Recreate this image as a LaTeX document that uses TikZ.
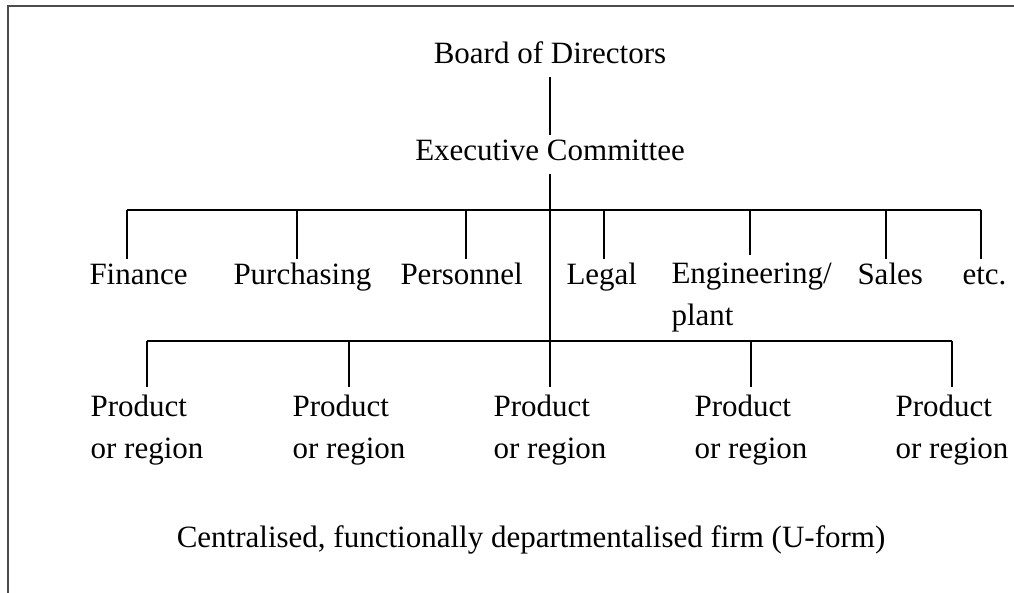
\documentclass[tikz,border=0pt]{standalone}
\usepackage{fontspec}
\setmainfont{Liberation Serif}
\usetikzlibrary{positioning}

\begin{document}
\begin{tikzpicture}[x=0.4pt, y=-0.4pt,
	txt/.style={inner xsep=0pt, inner ysep=3pt, font=\fontsize{12.4pt}{16.8pt}\selectfont},
	lbl/.style={txt, text height=0.7em, text depth=0.25em},
	twoline/.style={txt, align=left},
	bar/.style={line width=1.1pt},
	drop/.style={line width=0.6pt}]
			\useasboundingbox (0,0) rectangle (1014,593);
			\fill[white] (0,0) rectangle (1014,593);
			\draw[black!70, line width=0.6pt] (8,593) -- (8,6) -- (1014,6);
			
			\node[lbl, anchor=base] (board) at (550,63) {Board of Directors};
			\node[lbl, anchor=base] (exec) at (550,160) {Executive Committee};
			\draw[drop] (board) -- (exec);
			
			\foreach \x/\l/\t [count=\i] in {127/89/Finance, 297/233/Purchasing, 466/400/Personnel, 604/566/Legal, 886/857/Sales, 981/962/etc.} {
				\coordinate (t\i) at (\x,210);
				\node[lbl, anchor=base west] (d\i) at (\l,284) {\t};
				\draw[drop] (t\i) -- (t\i |- d\i.north);
			}
			\coordinate (te) at (750,210);
			\node[twoline, anchor=north west] (eng) at (671,255) {Engineering/\\plant};
			\draw[drop] (te) -- (te |- eng.north);
			\draw[bar] (t1) -- (t6);
			
			\foreach \x [count=\i] in {147,349,550,751,952} {
				\coordinate (b\i) at (\x,341);
				\node[twoline, anchor=north] (p\i) at (\x,387) {Product\\or region};
				\draw[drop] (b\i) -- (p\i);
			}
			\draw[bar] (b1) -- (b5);
			\draw[drop] (exec) -- (p3);
			
			\node[lbl, anchor=base] (cap) at (531,547) {Centralised, functionally departmentalised firm (U-form)};
		\end{tikzpicture}
\end{document}
